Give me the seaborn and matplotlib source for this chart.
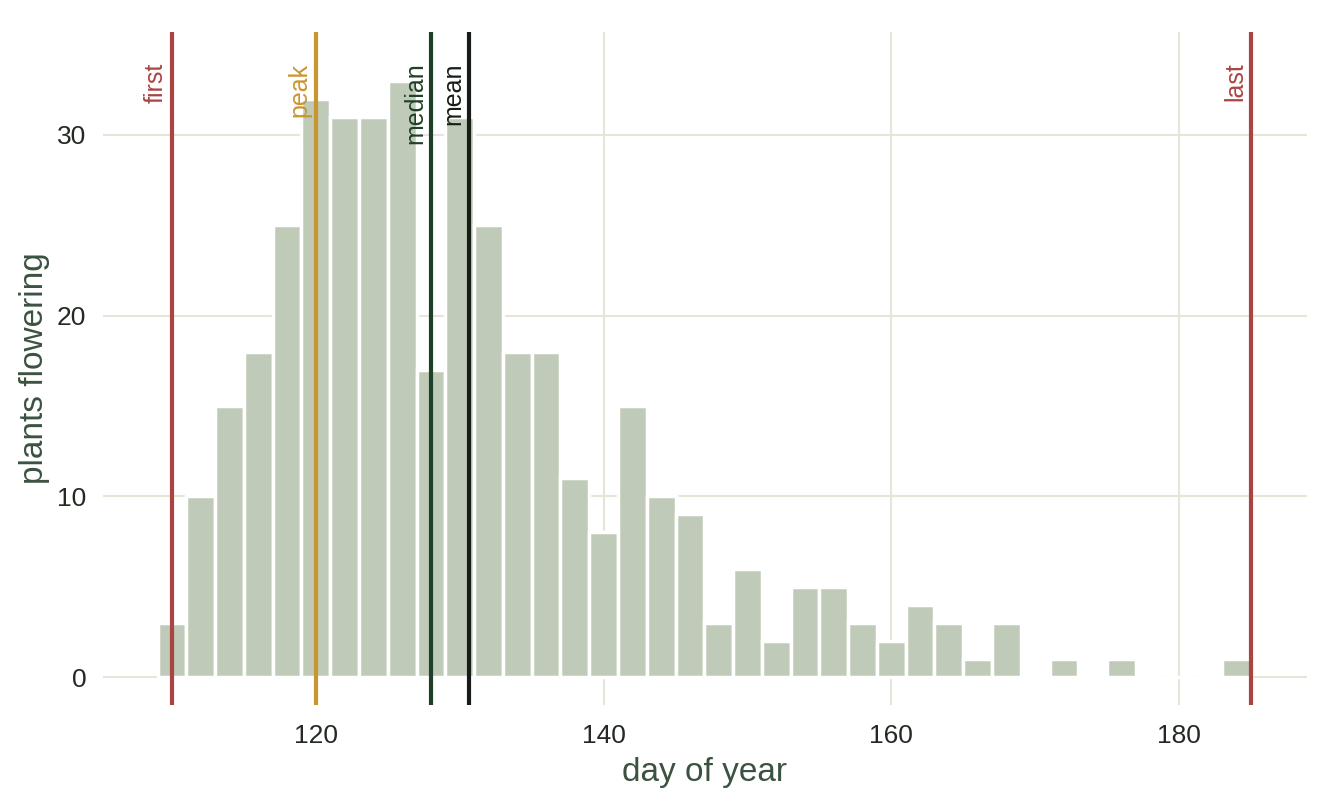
import matplotlib
matplotlib.use("Agg")
import matplotlib.pyplot as plt
import matplotlib.transforms as mtransforms
import seaborn as sns
import numpy as np
import pandas as pd

# ---- data ----
bin_starts = [109, 111, 113, 115, 117, 119, 121, 123, 125, 127, 129, 131, 133,
              135, 137, 139, 141, 143, 145, 147, 149, 151, 153, 155, 157, 159,
              161, 163, 165, 167, 169, 171, 173, 175, 177, 179, 181, 183]
counts = [3, 10, 15, 18, 25, 32, 31, 31, 33, 17, 31, 25, 18,
          18, 11, 8, 15, 10, 9, 3, 6, 2, 5, 5, 3, 2,
          4, 3, 1, 3, 0, 1, 0, 1, 0, 0, 0, 1]
bin_width = 2
marker_names = ["first", "peak", "median", "mean", "last"]
marker_days = [110, 120, 128, 130.66, 185]
marker_colors = ["#a94442", "#c9952f", "#1f3f27", "#161d17", "#a94442"]
x_ticks = [120, 140, 160, 180]
y_ticks = [0, 10, 20, 30]

sns.set_theme(style="white")
plt.rcParams["font.family"] = ["Liberation Sans", "DejaVu Sans"]

df = pd.DataFrame({"day": [s + bin_width / 2 for s in bin_starts], "n": counts})
edges = list(bin_starts) + [bin_starts[-1] + bin_width]

fig = plt.figure(figsize=(13.44, 8.06), dpi=100)
ax = fig.add_axes([0.0766, 0.1253, 0.8959, 0.8350])

sns.histplot(data=df, x="day", weights="n", bins=edges, ax=ax,
             color="#bfcbb8", alpha=1.0, edgecolor="white", linewidth=2.5,
             zorder=2)

ax.set_xlim(105.2, 188.9)
ax.set_ylim(-1.55, 35.7)
ax.set_xticks(x_ticks)
ax.set_yticks(y_ticks)
ax.set_axisbelow(True)
ax.grid(True, color="#e6e6d8", linewidth=1.5, zorder=0)
for sp in ax.spines.values():
    sp.set_visible(False)
ax.tick_params(axis="both", length=0, labelsize=19, labelcolor="#222a22")
ax.tick_params(axis="x", pad=14)
ax.tick_params(axis="y", pad=12)

ax.set_xlabel("day of year", fontsize=24, color="#3b5240", labelpad=6)
ax.set_ylabel("plants flowering", fontsize=24, color="#3b5240", labelpad=5)

offset = mtransforms.offset_copy(ax.transData, fig=fig, x=-4, y=0, units="dots")
for name, day, col in zip(marker_names, marker_days, marker_colors):
    ax.axvline(day, color=col, linewidth=3, zorder=3)
    ax.text(day, 34.0, name, rotation=90, ha="right", va="top",
            fontsize=18, color=col, transform=offset, zorder=4)

fig.savefig("out.png", dpi=100)
